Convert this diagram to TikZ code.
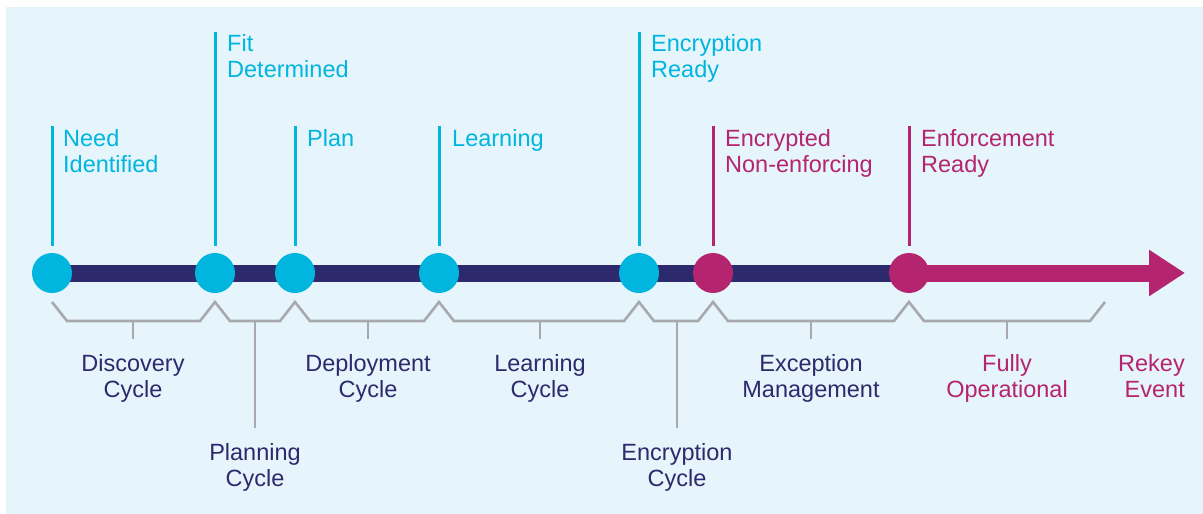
\documentclass[tikz,border=0pt]{standalone}
\usepackage{fontspec}
\setmainfont{Liberation Sans}
\usepackage{tikz}
\usetikzlibrary{arrows.meta,positioning}
\definecolor{bgblue}{HTML}{E6F4FB}
\definecolor{cyanpt}{HTML}{00B5DE}
\definecolor{navybar}{HTML}{2C2A6C}
\definecolor{magpt}{HTML}{B5256F}
\definecolor{bracketgray}{HTML}{A7A9AC}
\tikzset{
  milestone/.style={circle,fill=#1,minimum size=40pt,inner sep=0pt},
  toplabel/.style={anchor=base west,align=left,inner sep=0pt,text=#1},
  botlabel/.style={anchor=base,align=center,inner sep=0pt,text=#1},
  stem/.style={draw=#1,line width=3pt},
  bracket/.style={draw=bracketgray,line width=2.6pt}
}

\begin{document}
\begin{tikzpicture}[x=1pt,y=-1pt,font=\fontsize{23.5}{26}\selectfont]
\useasboundingbox (0,0) rectangle (1203,514);
\fill[bgblue] (6,7) rectangle (1203,514);

\coordinate (p1) at (52,273);
\coordinate (p2) at (215,273);
\coordinate (p3) at (295,273);
\coordinate (p4) at (439,273);
\coordinate (p5) at (639,273);
\coordinate (p6) at (713,273);
\coordinate (p7) at (909,273);
\coordinate (tip) at (1185,273);

\draw[navybar,line width=17pt] (p1) -- (p7);
\draw[magpt,line width=17pt,-{Triangle[length=36pt,width=44pt]}] (p7) -- (tip);

\node[milestone=cyanpt] (need) at (p1) {};
\node[milestone=cyanpt] (fit) at (p2) {};
\node[milestone=cyanpt] (plan) at (p3) {};
\node[milestone=cyanpt] (learn) at (p4) {};
\node[milestone=cyanpt] (encready) at (p5) {};
\node[milestone=magpt] (encnon) at (p6) {};
\node[milestone=magpt] (enfready) at (p7) {};

\node[toplabel=cyanpt] (needlbl) at (63,172) {Need\\Identified};
\node[toplabel=cyanpt] (fitlbl) at (227,77) {Fit\\Determined};
\node[toplabel=cyanpt] (planlbl) at (307,146) {Plan};
\node[toplabel=cyanpt] (learnlbl) at (452,146) {Learning};
\node[toplabel=cyanpt] (encreadylbl) at (651,77) {Encryption\\Ready};
\node[toplabel=magpt] (encnonlbl) at (725,172) {Encrypted\\Non-enforcing};
\node[toplabel=magpt] (enfreadylbl) at (921,172) {Enforcement\\Ready};

\draw[stem=cyanpt] ([yshift=7pt]need.north) -- ++(0,-120);
\draw[stem=cyanpt] ([yshift=7pt]fit.north) -- ++(0,-214);
\draw[stem=cyanpt] ([yshift=7pt]plan.north) -- ++(0,-120);
\draw[stem=cyanpt] ([yshift=7pt]learn.north) -- ++(0,-120);
\draw[stem=cyanpt] ([yshift=7pt]encready.north) -- ++(0,-214);
\draw[stem=magpt] ([yshift=7pt]encnon.north) -- ++(0,-120);
\draw[stem=magpt] ([yshift=7pt]enfready.north) -- ++(0,-120);

\draw[bracket] (52,302) -- (67,321) -- (200,321) -- (215,302) -- (230,321)
  -- (280,321) -- (295,302) -- (310,321) -- (424,321) -- (439,302) -- (454,321)
  -- (624,321) -- (639,302) -- (654,321) -- (698,321) -- (713,302) -- (728,321)
  -- (894,321) -- (909,302) -- (924,321) -- (1090,321) -- (1105,302);

\node[botlabel=navybar] (disclbl) at (133,397) {Discovery\\Cycle};
\node[botlabel=navybar] (planclbl) at (255,486) {Planning\\Cycle};
\node[botlabel=navybar] (deplbl) at (368,397) {Deployment\\Cycle};
\node[botlabel=navybar] (learnclbl) at (540,397) {Learning\\Cycle};
\node[botlabel=navybar] (encclbl) at (677,486) {Encryption\\Cycle};
\node[botlabel=navybar] (exclbl) at (811,397) {Exception\\Management};
\node[botlabel=magpt] (fullylbl) at (1007,397) {Fully\\Operational};
\node[anchor=base east,align=right,inner sep=0pt,text=magpt] (rekeylbl) at (1185,397) {Rekey\\Event};

\draw[bracket] (disclbl.north |- 0,321) -- ++(0,18);
\draw[bracket] (planclbl.north |- 0,321) -- ++(0,107);
\draw[bracket] (deplbl.north |- 0,321) -- ++(0,18);
\draw[bracket] (learnclbl.north |- 0,321) -- ++(0,18);
\draw[bracket] (encclbl.north |- 0,321) -- ++(0,107);
\draw[bracket] (exclbl.north |- 0,321) -- ++(0,18);
\draw[bracket] (fullylbl.north |- 0,321) -- ++(0,18);
\end{tikzpicture}
\end{document}
